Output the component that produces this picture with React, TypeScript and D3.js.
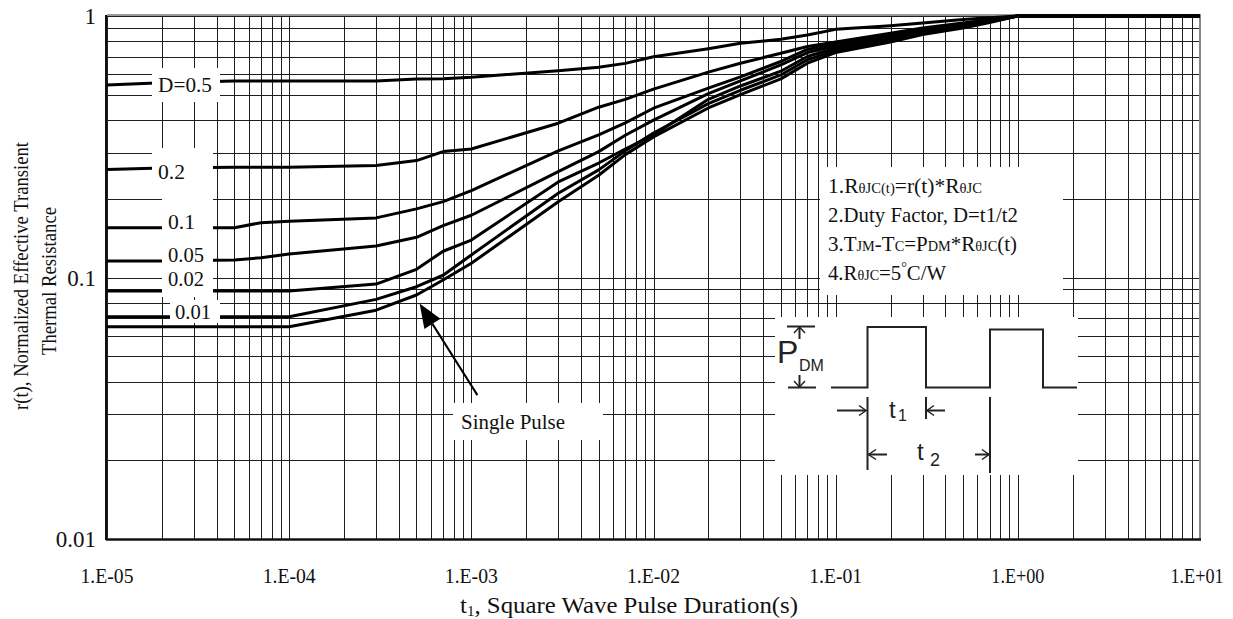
import React, { useEffect, useRef } from 'react';
import * as d3 from 'd3';

const W = 1233;
const H = 619;

// pulse duration t1 (s)
const pulseTimes = [
  1e-5, 2e-5, 5e-5, 7e-5, 1e-4, 3e-4, 5e-4, 7e-4, 1e-3, 3e-3, 5e-3, 7e-3, 1e-2,
  2e-2, 3e-2, 5e-2, 7e-2, 1e-1, 2e-1, 3e-1, 5e-1, 7e-1, 1, 3, 10,
];

// r(t) for each duty factor
const dutyHalf = [0.545, 0.556, 0.564, 0.564, 0.564, 0.564, 0.574, 0.576, 0.583, 0.618, 0.637, 0.659, 0.699, 0.75, 0.786, 0.815, 0.846, 0.889, 0.918, 0.94, 0.97, 0.985, 1, 1, 1];
const duty02 = [0.259, 0.262, 0.264, 0.264, 0.264, 0.268, 0.28, 0.303, 0.31, 0.389, 0.448, 0.48, 0.525, 0.61, 0.66, 0.72, 0.765, 0.795, 0.86, 0.9, 0.94, 0.97, 1, 1, 1];
const duty01 = [0.155, 0.155, 0.155, 0.162, 0.164, 0.169, 0.183, 0.195, 0.215, 0.305, 0.351, 0.39, 0.444, 0.53, 0.585, 0.67, 0.745, 0.785, 0.85, 0.89, 0.93, 0.965, 1, 1, 1];
const duty005 = [0.1156, 0.1156, 0.1167, 0.119, 0.123, 0.132, 0.1425, 0.158, 0.173, 0.254, 0.303, 0.35, 0.4, 0.505, 0.565, 0.65, 0.725, 0.77, 0.84, 0.88, 0.92, 0.96, 1, 1, 1];
const duty002 = [0.0887, 0.0887, 0.0887, 0.0887, 0.0887, 0.0944, 0.1075, 0.126, 0.139, 0.232, 0.274, 0.31, 0.351, 0.48, 0.54, 0.615, 0.7, 0.755, 0.825, 0.87, 0.91, 0.955, 1, 1, 1];
const duty001 = [0.0708, 0.0708, 0.0708, 0.0708, 0.0708, 0.0825, 0.0922, 0.102, 0.122, 0.21, 0.258, 0.305, 0.357, 0.462, 0.52, 0.595, 0.68, 0.74, 0.81, 0.86, 0.905, 0.95, 1, 1, 1];
const singlePulse = [0.0648, 0.0648, 0.0648, 0.0648, 0.0648, 0.075, 0.0857, 0.0978, 0.1133, 0.195, 0.246, 0.295, 0.345, 0.445, 0.5, 0.575, 0.66, 0.725, 0.795, 0.85, 0.9, 0.945, 1, 1, 1];

const allSeries = [dutyHalf, duty02, duty01, duty005, duty002, duty001, singlePulse];

const xTicks = [1e-5, 1e-4, 1e-3, 1e-2, 1e-1, 1, 10];
const xTickLabels = ['1.E-05', '1.E-04', '1.E-03', '1.E-02', '1.E-01', '1.E+00', '1.E+01'];
const yTicks = [0.01, 0.1, 1];
const yTickLabels = ['0.01', '0.1', '1'];

// series labels: text and its white box [x, y, w, h] in px, text baseline pos
const seriesLabels = [
  { text: 'D=0.5', box: [152, 68, 68, 34], tx: 158, ty: 92 },
  { text: '0.2', box: [152, 148, 61, 45], tx: 158, ty: 179 },
  { text: '0.1', box: [162, 193, 51, 104], tx: 168, ty: 229 },
  { text: '0.05', box: [162, 193, 51, 104], tx: 168, ty: 262 },
  { text: '0.02', box: [162, 193, 51, 104], tx: 168, ty: 286 },
  { text: '0.01', box: [170, 300, 50, 23], tx: 175, ty: 319 },
];

// arrow to the single pulse curve, in data units
const arrowTip = [5.2e-4, 0.0795];
const arrowTail = [1.08e-3, 0.0355];

const serif = '"Liberation Serif", "Times New Roman", serif';
const sans = '"Liberation Sans", Arial, sans-serif';

function App() {
  const ref = useRef<SVGSVGElement | null>(null);

  useEffect(() => {
    const svg = d3.select(ref.current);
    svg.selectAll('*').remove();

    const x = d3.scaleLog().domain([1e-5, 10]).range([107, 1200]);
    const y = d3.scaleLog().domain([0.01, 1]).range([539, 16]);

    svg.append('rect').attr('width', W).attr('height', H).attr('fill', 'white');

    // grid
    const grid = svg
      .append('g')
      .attr('stroke', '#1e1e1e')
      .attr('stroke-width', 1)
      .attr('shape-rendering', 'crispEdges');
    grid
      .selectAll('line.v')
      .data(x.ticks())
      .enter()
      .append('line')
      .attr('x1', (d) => Math.round(x(d)) + 0.5)
      .attr('x2', (d) => Math.round(x(d)) + 0.5)
      .attr('y1', 16)
      .attr('y2', 539);
    grid
      .selectAll('line.h')
      .data(y.ticks())
      .enter()
      .append('line')
      .attr('y1', (d) => Math.round(y(d)) + 0.5)
      .attr('y2', (d) => Math.round(y(d)) + 0.5)
      .attr('x1', 107)
      .attr('x2', 1200);

    // frame
    svg.append('line').attr('x1', 107).attr('x2', 1201).attr('y1', 15).attr('y2', 15)
      .attr('stroke', '#999').attr('stroke-width', 2);
    svg.append('line').attr('x1', 1200).attr('x2', 1200).attr('y1', 15).attr('y2', 540)
      .attr('stroke', '#888').attr('stroke-width', 2);
    svg.append('line').attr('x1', 106).attr('x2', 106).attr('y1', 15).attr('y2', 540)
      .attr('stroke', '#111').attr('stroke-width', 2);
    svg.append('line').attr('x1', 106).attr('x2', 1201).attr('y1', 539.5).attr('y2', 539.5)
      .attr('stroke', '#111').attr('stroke-width', 2.5);

    // curves
    const line = d3
      .line<number>()
      .x((_, i) => x(pulseTimes[i]))
      .y((d) => y(d));
    svg
      .append('g')
      .selectAll('path')
      .data(allSeries)
      .enter()
      .append('path')
      .attr('d', (d) => line(d))
      .attr('fill', 'none')
      .attr('stroke', '#000')
      .attr('stroke-width', 3)
      .attr('stroke-linejoin', 'round');

    // series labels
    const lab = svg.append('g');
    seriesLabels.forEach((l) => {
      lab.append('rect')
        .attr('x', l.box[0]).attr('y', l.box[1])
        .attr('width', l.box[2]).attr('height', l.box[3])
        .attr('fill', 'white');
    });
    seriesLabels.forEach((l) => {
      lab.append('text')
        .attr('x', l.tx).attr('y', l.ty)
        .attr('font-family', serif).attr('font-size', 22)
        .attr('fill', '#111')
        .attr('textLength', l.text.length === 5 ? 54 : l.text.length === 4 ? 36 : 27)
        .attr('lengthAdjust', 'spacingAndGlyphs')
        .text(l.text);
    });

    // single pulse label + arrow
    svg.append('rect').attr('x', 453).attr('y', 403).attr('width', 150).attr('height', 37).attr('fill', 'white');
    svg.append('text').attr('x', 461).attr('y', 429)
      .attr('font-family', serif).attr('font-size', 22).attr('fill', '#111')
      .attr('textLength', 104).attr('lengthAdjust', 'spacingAndGlyphs')
      .text('Single Pulse');
    const tip = [x(arrowTip[0]), y(arrowTip[1])];
    const tail = [x(arrowTail[0]), y(arrowTail[1])];
    const ang = Math.atan2(tail[1] - tip[1], tail[0] - tip[0]);
    const hl = 24;
    const hw = 9.5;
    const bx = tip[0] + hl * Math.cos(ang);
    const by = tip[1] + hl * Math.sin(ang);
    svg.append('line')
      .attr('x1', bx).attr('y1', by).attr('x2', tail[0]).attr('y2', tail[1])
      .attr('stroke', '#000').attr('stroke-width', 2);
    svg.append('polygon')
      .attr('points', [
        [tip[0], tip[1]],
        [bx - hw * Math.sin(ang), by + hw * Math.cos(ang)],
        [bx + hw * Math.sin(ang), by - hw * Math.cos(ang)],
      ].map((p) => p.join(',')).join(' '))
      .attr('fill', '#000');

    // notes box
    svg.append('rect').attr('x', 820).attr('y', 167).attr('width', 243).attr('height', 128).attr('fill', 'white');
    const notes = svg.append('g').attr('font-family', serif).attr('font-size', 22).attr('fill', '#111');
    const small = 15;
    const addLine = (yy: number, len: number, parts: [string, boolean, number?][]) => {
      const t = notes.append('text').attr('x', 828).attr('y', yy)
        .attr('textLength', len).attr('lengthAdjust', 'spacingAndGlyphs');
      parts.forEach(([s, sm, dy]) => {
        const sp = t.append('tspan').text(s);
        if (sm) sp.attr('font-size', small);
        if (dy) sp.attr('dy', dy);
      });
    };
    addLine(193, 154, [['1.R', false], ['\u03b8JC(t)', true], ['=r(t)*R', false], ['\u03b8JC', true]]);
    addLine(222, 190, [['2.Duty Factor, D=t1/t2', false]]);
    addLine(251, 189, [['3.T', false], ['JM', true], ['-T', false], ['C', true], ['=P', false], ['DM', true], ['*R', false], ['\u03b8JC', true], ['(t)', false]]);
    addLine(280, 118, [['4.R', false], ['\u03b8JC', true], ['=5', false], ['\u00b0', true, -8], ['C/W', false, 8]]);

    // pulse diagram
    svg.append('rect').attr('x', 775).attr('y', 317).attr('width', 303).attr('height', 158).attr('fill', 'white');
    const pd = svg.append('g').attr('stroke', '#222').attr('stroke-width', 2).attr('fill', 'none');
    pd.append('path').attr('d', 'M831,387.5H867.5V327H926V387.5H990V329.5H1043V387.5H1077');
    pd.append('path').attr('d', 'M787,326.5H815M788,387.5H816');
    pd.append('path').attr('d', 'M799.5,326.5V339M799.5,387.5V375');
    pd.append('path').attr('d', 'M794,333L799.5,327L805,333M794,381L799.5,387L805,381').attr('stroke-width', 1.5);
    pd.append('path').attr('d', 'M867.5,397V470M926,397V419M990,397V473');
    pd.append('path').attr('d', 'M837,410.5H866M945,410.5H927M887,454.5H868.5M975,454.5H989');
    pd.append('path')
      .attr('d', 'M859,405.5L866,410.5L859,415.5M934,405.5L927,410.5L934,415.5M876,449.5L868.5,454.5L876,459.5M982,449.5L989,454.5L982,459.5')
      .attr('stroke-width', 1.5);
    const pt = svg.append('g').attr('font-family', sans).attr('fill', '#222');
    pt.append('text').attr('x', 777).attr('y', 363).attr('font-size', 32).text('P');
    pt.append('text').attr('x', 799).attr('y', 371).attr('font-size', 16).text('DM');
    pt.append('text').attr('x', 889).attr('y', 418).attr('font-size', 24).text('t');
    pt.append('text').attr('x', 898).attr('y', 421).attr('font-size', 16).text('1');
    pt.append('text').attr('x', 917).attr('y', 460).attr('font-size', 24).text('t');
    pt.append('text').attr('x', 930).attr('y', 466).attr('font-size', 18).text('2');

    // axes labels
    const ax = svg.append('g').attr('font-family', serif).attr('fill', '#111');
    ax.selectAll('text.x')
      .data(xTicks)
      .enter()
      .append('text')
      .attr('x', (d, i) => (i === xTicks.length - 1 ? x(d) - 3 : x(d)))
      .attr('y', 583)
      .attr('text-anchor', 'middle')
      .attr('font-size', 21)
      .attr('textLength', 53)
      .attr('lengthAdjust', 'spacingAndGlyphs')
      .text((_, i) => xTickLabels[i]);
    ax.selectAll('text.y')
      .data(yTicks)
      .enter()
      .append('text')
      .attr('x', 96)
      .attr('y', (d) => y(d) + 8)
      .attr('text-anchor', 'end')
      .attr('font-size', 23)
      .text((_, i) => yTickLabels[i]);

    const xt = ax.append('text').attr('x', 629).attr('y', 613).attr('font-size', 23)
      .attr('textLength', 338).attr('lengthAdjust', 'spacingAndGlyphs')
      .attr('text-anchor', 'middle');
    xt.append('tspan').text('t');
    xt.append('tspan').attr('font-size', 14).attr('dy', 3).text('1');
    xt.append('tspan').attr('dy', -3).text(', Square Wave Pulse Duration(s)');

    ax.append('text')
      .attr('transform', 'translate(28,276) rotate(-90)')
      .attr('text-anchor', 'middle')
      .attr('font-size', 22)
      .attr('textLength', 268)
      .attr('lengthAdjust', 'spacingAndGlyphs')
      .text('r(t), Normalized Effective Transient');
    ax.append('text')
      .attr('transform', 'translate(56,281) rotate(-90)')
      .attr('text-anchor', 'middle')
      .attr('font-size', 22)
      .attr('textLength', 148)
      .attr('lengthAdjust', 'spacingAndGlyphs')
      .text('Thermal Resistance');
  }, []);

  return (
    <svg
      ref={ref}
      width={W}
      height={H}
      style={{ position: 'absolute', left: 0, top: 0 }}
    />
  );
}

export default App;
